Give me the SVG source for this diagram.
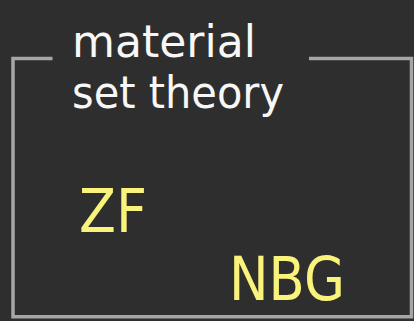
<svg xmlns="http://www.w3.org/2000/svg" width="414" height="321" viewBox="0 0 414 321">
  <style>
    .frame { fill: none; stroke: #a6a6a6; stroke-width: 3.5; stroke-linejoin: miter; }
    .title { font-family: "DejaVu Sans", "Liberation Sans", sans-serif; font-size: 45px; fill: #f7f7f7; }
    .label { font-family: "DejaVu Sans", "Liberation Sans", sans-serif; font-size: 60px; fill: #f9f27b; }
  </style>
  <rect x="0" y="0" width="414" height="321" fill="#2e2e2e"/>
  <g id="frame">
    <path class="frame" d="M52.5,58.5 H13 V316.8 H411.5 V58.5 H309"/>
    <text class="title" x="72" y="57" textLength="184" lengthAdjust="spacingAndGlyphs">material</text>
    <text class="title" x="72" y="108" textLength="212" lengthAdjust="spacingAndGlyphs">set theory</text>
  </g>
  <g id="ZF">
    <text class="label" x="79" y="232" textLength="68" lengthAdjust="spacingAndGlyphs">ZF</text>
  </g>
  <g id="NBG">
    <text class="label" x="229" y="300" textLength="116" lengthAdjust="spacingAndGlyphs">NBG</text>
  </g>
  <g id="connectors"></g>
</svg>
